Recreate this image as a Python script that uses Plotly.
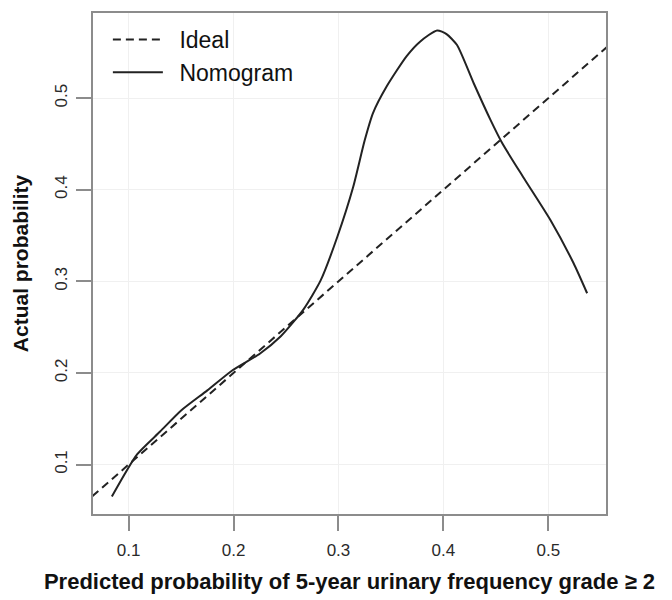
import plotly.graph_objects as go

# calibration data
ideal_x = [0.0, 1.0]
ideal_y = [0.0, 1.0]

nomogram_x = [0.084, 0.108, 0.130, 0.150, 0.175, 0.199, 0.225, 0.245, 0.267, 0.283,
              0.299, 0.314, 0.325, 0.333, 0.346, 0.365, 0.378, 0.394, 0.403, 0.413,
              0.429, 0.445, 0.456, 0.476, 0.502, 0.524, 0.537]
nomogram_y = [0.065, 0.111, 0.136, 0.159, 0.181, 0.203, 0.221, 0.240, 0.270, 0.301,
              0.349, 0.403, 0.454, 0.484, 0.513, 0.546, 0.562, 0.574, 0.570, 0.558,
              0.516, 0.476, 0.451, 0.414, 0.367, 0.320, 0.287]

tick_vals = [0.1, 0.2, 0.3, 0.4, 0.5]
tick_text = ["0.1", "0.2", "0.3", "0.4", "0.5"]

fig = go.Figure()
fig.add_trace(go.Scatter(x=ideal_x, y=ideal_y, mode="lines", name="\u2002Ideal",
                         line=dict(color="#222222", width=2, dash="8px,5px")))
fig.add_trace(go.Scatter(x=nomogram_x, y=nomogram_y, mode="lines", name="\u2002Nomogram",
                         line=dict(color="#222222", width=2, shape="spline", smoothing=0.6)))

axis_style = dict(showgrid=True, gridcolor="#f0f0f0", gridwidth=1, zeroline=False,
                  showline=True, mirror=True, linecolor="#8c8c8c", linewidth=1.5,
                  ticks="outside", ticklen=15, tickcolor="#8c8c8c", tickwidth=1.5,
                  tickvals=tick_vals, ticktext=tick_text, automargin=False,
                  tickfont=dict(family="Liberation Sans", size=17, color="#2a2a2a"))

fig.update_xaxes(range=[0.066, 0.555], ticklabelstandoff=5, **axis_style,
                 title=dict(text="<b>Predicted probability of 5-year urinary frequency grade ≥ 2</b>",
                            font=dict(family="Liberation Sans", size=22, color="#111111"),
                            standoff=14))
fig.update_yaxes(range=[0.046, 0.593], tickangle=-90, ticklabelstandoff=2, **axis_style,
                 title=dict(text="<b>Actual probability</b>",
                            font=dict(family="Liberation Sans", size=21, color="#111111"),
                            standoff=18))

# the page puts the figure 8px in from the top-left corner
fig.update_layout(
    width=664, height=592,
    margin=dict(l=85, r=66, t=5, b=86),
    plot_bgcolor="white", paper_bgcolor="white",
    showlegend=True,
    legend=dict(x=0.029, y=0.99, xanchor="left", yanchor="top",
                bgcolor="rgba(0,0,0,0)", font=dict(family="Liberation Sans", size=23, color="#111111"),
                tracegroupgap=0, itemwidth=50),
)

fig.write_html("out.html")
